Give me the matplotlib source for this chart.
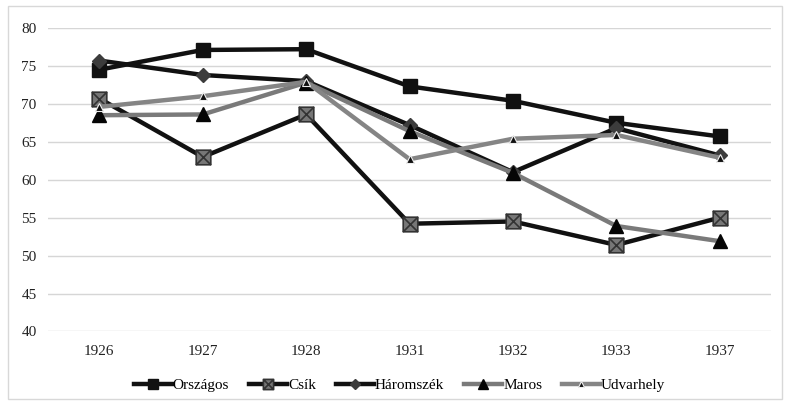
import matplotlib
matplotlib.use("Agg")
import matplotlib.pyplot as plt
from matplotlib.path import Path
from matplotlib.patches import Rectangle

years = ["1926", "1927", "1928", "1931", "1932", "1933", "1937"]
orszagos = [74.5, 77.1, 77.2, 72.3, 70.4, 67.5, 65.7]
csik = [70.7, 63.0, 68.6, 54.2, 54.5, 51.4, 55.0]
haromszek = [75.7, 73.8, 73.0, 67.2, 61.0, 66.8, 63.2]
maros = [68.5, 68.6, 72.8, 66.4, 60.9, 53.9, 51.9]
udvarhely = [69.6, 71.0, 72.9, 62.7, 65.4, 65.9, 62.9]

plt.rcParams['font.family'] = ['Liberation Serif', 'DejaVu Serif']

fig = plt.figure(figsize=(7.88, 4.05), dpi=100)
fig.patches.append(Rectangle((0.01, 0.015), 0.982, 0.97, transform=fig.transFigure,
                             fill=False, edgecolor='#d8d8d8', linewidth=1.0))
ax = fig.add_axes([0.0605, 0.1815, 0.9185, 0.7495])

x = list(range(len(years)))

# square with X marker
sqx = Path([(-1, -1), (1, -1), (1, 1), (-1, 1), (-1, -1),
            (-1, -1), (1, 1), (-1, 1), (1, -1)],
           [Path.MOVETO, Path.LINETO, Path.LINETO, Path.LINETO, Path.CLOSEPOLY,
            Path.MOVETO, Path.LINETO, Path.MOVETO, Path.LINETO])

ax.plot(x, orszagos, color='#111111', lw=3.2, marker='s', ms=10.5,
        mfc='#111111', mec='#111111', label='Országos', zorder=3)
ax.plot(x, csik, color='#111111', lw=3.2, marker=sqx, ms=10.5,
        mfc='#777777', mec='#333333', mew=1.2, label='Csík', zorder=3)
ax.plot(x, haromszek, color='#111111', lw=3.2, marker='D', ms=7.5,
        mfc='#3c3c3c', mec='#3c3c3c', label='Háromszék', zorder=3)
ax.plot(x, maros, color='#7a7a7a', lw=3.2, marker='^', ms=10,
        mfc='#050505', mec='#050505', label='Maros', zorder=3)
ax.plot(x, udvarhely, color='#858585', lw=3.2, marker='^', ms=5.5,
        mfc='#111111', mec='#eeeeee', mew=0.8, label='Udvarhely', zorder=3)

ax.set_xlim(-0.5, len(years) - 0.5)
ax.set_ylim(40, 80)
ax.set_yticks(range(40, 81, 5))
ax.set_xticks(x)
ax.set_xticklabels(years)
ax.yaxis.grid(True, color='#d6d6d6', lw=1.0)
ax.set_axisbelow(True)
for s in ax.spines.values():
    s.set_visible(False)
ax.tick_params(axis='both', length=0, labelsize=11, colors='#222222')
ax.tick_params(axis='y', pad=8)
ax.tick_params(axis='x', pad=10)

leg = fig.legend(loc='center', bbox_to_anchor=(0.507, 0.048), ncol=5, frameon=False,
                 fontsize=11, handlelength=2.5, columnspacing=1.3, handletextpad=0.05,
                 markerscale=0.7)

fig.savefig('out.png', dpi=100)
